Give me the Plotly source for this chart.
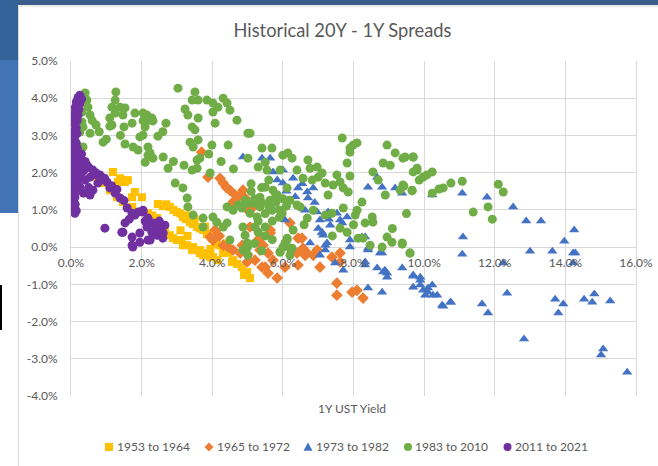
import plotly.graph_objects as go

# ---------------- data (1Y UST yield %, 20Y-1Y spread %) ----------------
x_1953_1964 = [1.19,1.39,1.61,1.33,1.53,1.81,2.01,1.73,2.46,2.80,3.00,3.17,3.37,3.57,3.74,3.99,4.08,4.31,4.59,4.84,4.99,5.07,
               0.74,0.91,1.10,1.30,1.47,1.73,1.95,2.18,2.44,2.66,2.80,3.00,3.17,3.43,3.65,3.88,4.02,4.31,4.56,
               2.89,3.14,3.29,3.46,3.65,3.74,3.94,
               2.90,3.10,3.25,3.45,3.65,3.85,4.20,4.45,4.70,2.60,3.30,3.50,3.80,4.10,4.40,2.30,3.95,4.15,4.90,2.70,3.10,3.30]
y_1953_1964 = [2.02,1.85,1.80,1.75,1.75,1.48,1.34,1.34,1.16,1.08,0.94,0.81,0.67,0.54,0.46,0.24,0.11,-0.03,-0.35,-0.54,-0.67,-0.83,
               1.88,1.72,1.53,1.34,1.21,1.08,0.94,0.91,0.78,0.54,0.32,0.19,0.05,-0.08,-0.16,-0.16,-0.27,-0.16,-0.40,
               0.24,0.19,0.05,0.00,-0.08,-0.22,-0.27,
               1.00,0.90,0.75,0.62,0.50,0.35,0.05,-0.15,-0.45,1.10,0.85,0.75,0.55,0.30,0.10,0.85,-0.05,-0.35,-0.75,1.15,0.45,0.30]

x_1965_1972 = [3.70,3.88,4.22,4.31,4.50,4.65,4.87,4.93,4.59,4.02,3.94,4.31,4.59,4.79,5.13,5.07,5.64,5.44,5.58,5.35,5.21,4.99,
               5.50,5.58,5.72,6.20,6.54,6.57,6.40,6.43,6.69,6.86,6.97,7.05,7.39,7.62,7.62,4.08,5.41,5.84,6.06,6.63,
               7.53,7.53,7.96,8.10,8.27,6.43,5.64,4.40,4.75,5.00,4.20,4.45,5.30,5.00,4.85]
y_1965_1972 = [2.55,1.88,1.85,1.72,1.53,1.40,1.53,1.32,1.21,0.19,0.27,0.05,-0.08,-0.16,1.05,0.54,0.38,0.05,-0.16,-0.08,-0.35,-0.40,
               -0.54,-0.70,-0.35,0.65,0.24,-0.03,-0.16,-0.48,-0.16,-0.22,-0.08,-0.54,-0.27,-0.16,-0.40,0.46,-0.54,-0.83,-0.54,-0.22,
               -0.97,-1.29,-1.21,-1.16,-1.37,0.24,0.46,1.60,1.35,1.00,0.30,0.00,0.20,-0.20,0.05]

x_1973_1982 = [4.87,5.41,5.64,5.72,6.00,5.84,6.29,6.00,6.43,6.69,6.86,6.14,6.71,6.97,6.63,7.28,7.53,7.82,7.05,7.34,7.68,7.11,
               7.14,6.77,7.25,7.20,7.05,7.90,7.90,8.24,8.41,8.33,8.75,8.41,8.81,9.18,9.38,8.67,7.48,7.71,8.67,8.89,
               8.95,9.38,9.69,8.33,6.06,7.11,7.20,8.41,8.81,8.33,8.84,8.95,9.89,9.69,9.97,10.23,10.11,10.25,10.51,10.74,
               7.62,8.41,8.81,10.23,11.08,11.78,12.52,12.89,13.31,11.10,11.08,13.00,13.63,13.97,14.25,14.22,12.24,
               9.89,9.69,9.89,10.11,10.03,10.37,10.54,10.76,11.64,11.81,12.35,12.83,13.71,13.94,13.80,14.53,14.76,
               14.82,15.27,15.07,15.01,15.75,14.22,14.28,6.10,6.35,6.55,6.90,7.30,7.00]
y_1973_1982 = [2.42,2.39,2.39,2.02,2.07,1.80,1.85,1.72,1.59,1.48,1.59,1.26,1.32,0.94,0.99,0.94,0.91,0.81,0.73,0.59,0.65,0.40,
               0.32,0.11,0.11,-0.08,-0.22,0.19,0.00,0.27,-0.03,0.27,-0.16,1.61,1.61,1.59,1.45,1.88,-0.43,-0.62,-0.56,-0.62,
               -0.70,-0.56,-0.75,-0.40,0.73,0.38,0.05,-1.10,-1.21,-0.48,-0.67,-0.81,-0.89,-1.08,-1.16,-1.02,-1.21,-1.29,-1.56,-1.48,
               0.73,-0.08,-0.16,1.40,1.45,1.34,1.08,0.70,0.70,0.27,-0.19,-0.11,-0.11,0.16,0.46,-0.16,-0.43,
               -0.81,-0.78,-1.02,-1.10,-1.29,-1.29,-1.59,-1.48,-1.53,-1.77,-1.24,-2.47,-1.40,-1.53,-1.77,-1.40,-1.48,
               -1.26,-1.45,-2.74,-2.90,-3.36,-0.43,-0.16,1.50,1.35,1.70,1.20,0.75,0.50]

x_1983_2010 = [0.40,0.45,0.48,0.54,0.31,0.34,0.54,0.71,0.34,0.91,1.27,1.25,1.16,1.39,1.53,1.25,1.10,1.47,1.10,1.50,1.73,1.81,
               1.53,1.76,1.90,2.04,2.15,2.04,2.29,2.32,2.10,2.04,1.95,2.46,2.69,2.18,2.24,2.61,3.03,3.23,3.31,3.43,3.51,3.60,
               3.85,4.02,4.16,3.60,3.43,3.51,3.37,3.46,3.60,3.99,3.65,0.25,0.31,2.18,2.10,2.32,2.75,2.24,1.16,2.95,3.17,3.29,
               3.31,3.46,3.74,3.74,4.02,4.13,4.31,4.42,4.50,4.42,4.59,4.73,4.84,4.93,5.01,4.87,4.93,4.99,4.87,5.01,3.57,3.43,
               3.57,3.94,4.45,5.01,4.70,4.08,4.31,4.50,4.42,4.02,5.07,5.41,5.69,5.01,5.50,5.30,5.55,6.00,6.14,6.26,5.92,6.40,
               6.71,6.77,6.97,7.11,6.57,6.83,7.00,7.20,7.53,7.62,7.42,7.90,7.71,7.85,7.28,7.68,7.90,7.99,8.10,7.82,7.90,8.95,
               9.18,9.40,9.69,8.84,9.04,8.55,8.70,9.40,9.32,9.66,9.80,5.72,5.50,5.35,5.64,5.84,6.12,6.20,6.40,6.49,5.98,5.69,
               5.35,5.16,5.07,5.27,5.50,5.21,6.29,6.12,6.00,6.26,6.20,5.92,6.69,6.86,7.20,7.39,7.71,8.10,8.05,8.24,8.53,8.55,
               8.33,7.62,7.82,8.13,8.27,8.95,9.09,9.38,8.81,8.47,9.60,5.20,5.40,5.60,5.80,5.50,5.30,5.70,5.90,6.00,5.10,5.40,
               5.60,5.80,6.10,5.30,5.50,5.70,5.20,5.00,5.40,6.06,6.20,5.92,6.12,9.46,9.69,9.80,9.69,9.86,9.97,10.08,10.23,9.43,
               9.66,10.23,10.42,10.54,10.76,11.08,11.39,11.81,11.93,12.10,12.24,9.38,9.60,0.60,0.80,1.00,1.40,2.60,2.90,
               3.20,3.90,4.25,4.60,5.10,5.90,6.60,7.40,8.00,8.90,9.10,9.50]
y_1983_2010 = [4.14,3.95,3.76,3.55,3.63,3.23,3.06,3.28,2.69,2.82,4.17,3.95,3.76,3.76,3.74,3.60,3.47,3.55,3.25,3.23,3.33,3.60,
               2.77,2.69,2.61,3.60,3.55,3.39,3.47,3.39,3.23,3.01,2.96,2.98,3.33,2.69,2.53,2.42,4.27,3.71,3.55,3.95,4.17,3.95,
               3.95,3.87,3.76,3.47,3.23,3.15,2.82,2.69,2.88,2.74,2.39,3.09,3.36,2.47,2.28,2.39,2.12,3.41,3.28,1.72,1.59,1.32,
               1.08,0.86,0.78,0.54,0.81,0.67,0.54,0.65,0.19,1.08,0.99,1.13,1.05,1.26,1.18,0.54,0.32,0.11,-0.08,-0.22,2.34,2.07,
               2.12,1.99,2.74,3.06,3.41,3.33,4.00,3.68,3.87,3.63,3.06,2.66,2.66,2.39,2.28,2.15,2.07,2.47,2.53,2.39,2.07,2.07,
               2.34,2.12,2.15,1.99,1.85,1.80,1.88,1.72,1.94,1.75,1.67,1.91,1.59,1.48,1.40,2.93,2.66,2.74,2.80,2.26,2.55,2.74,
               2.53,2.39,2.42,2.26,2.20,2.02,1.80,1.67,1.53,1.53,2.07,1.53,1.61,1.34,1.26,1.40,1.59,1.26,1.13,1.08,0.91,0.99,
               1.08,1.18,0.91,0.81,0.54,0.54,0.46,0.19,0.00,-0.03,-0.22,-0.13,0.78,0.99,0.86,0.91,1.05,0.99,0.86,1.21,0.81,0.67,
               0.65,0.51,0.40,0.24,0.24,0.27,0.13,0.11,0.00,0.05,-0.16,1.30,1.20,1.10,1.20,0.90,0.70,0.70,1.00,1.30,1.50,1.60,
               1.80,1.40,1.10,0.40,0.30,0.20,0.10,0.00,-0.10,0.11,-0.03,-0.13,0.24,2.42,2.42,2.12,2.02,1.80,1.88,1.94,2.02,1.64,
               1.51,1.45,1.56,1.59,1.72,1.77,0.94,1.08,0.75,1.69,1.48,0.08,-0.16,3.40,3.10,2.90,3.00,3.10,2.30,
               2.20,2.50,2.30,2.10,1.70,0.80,0.60,0.30,0.60,1.40,0.50,0.90]

x_2011_2021 = [0.25,0.20,0.30,0.15,0.25,0.12,0.22,0.10,0.20,0.08,0.18,0.10,0.15,0.07,0.17,0.10,0.05,0.15,0.08,0.18,0.06,0.14,
               0.22,0.08,0.16,0.05,0.25,0.12,0.20,0.05,0.30,0.10,0.20,0.35,0.05,0.15,0.28,0.08,0.20,0.05,0.15,0.25,0.08,0.10,
               0.11,0.07,0.12,0.08,0.11,0.15,0.40,0.45,0.30,
               0.40,0.62,0.82,1.02,1.10,1.25,1.39,1.59,1.73,1.90,2.04,2.18,2.32,2.52,2.66,2.61,2.44,2.18,1.95,1.73,1.73,1.44,
               1.53,0.96,0.54,0.62,0.40,0.76,0.54,0.25,1.81,2.15,2.29,1.95,1.47,1.75,2.04,2.60,2.24,0.70,0.90,0.50,0.35,2.40,
               2.50,2.10,1.65,0.30,0.50,0.70,0.95,1.15,1.30,1.50]
y_2011_2021 = [4.08,4.02,3.98,3.90,3.85,3.75,3.70,3.60,3.55,3.45,3.40,3.30,3.20,3.10,3.05,2.95,2.85,2.80,2.70,2.65,2.55,2.50,
               2.45,2.40,2.35,2.30,2.30,2.25,2.20,2.15,2.15,2.10,2.05,2.05,2.00,1.95,1.95,1.85,1.80,1.70,1.65,1.60,1.55,1.45,
               1.34,1.25,1.15,1.05,0.91,0.98,2.30,2.20,2.50,
               2.10,2.07,1.94,1.75,1.59,1.45,1.32,1.05,0.91,0.94,0.99,0.78,0.65,0.54,0.59,0.38,0.32,0.19,0.38,0.27,0.05,0.40,
               0.65,0.51,1.40,1.53,1.80,1.72,1.88,1.61,0.86,0.54,0.40,0.13,0.40,0.00,0.94,0.24,0.19,1.95,1.80,1.60,1.45,0.55,
               0.70,0.70,0.75,2.20,2.15,2.00,1.85,1.65,1.55,1.25]

series_names = ["1953 to 1964", "1965 to 1972", "1973 to 1982", "1983 to 2010", "2011 to 2021"]
x_ticks = [0, 2, 4, 6, 8, 10, 12, 14, 16]
y_ticks = [-4, -3, -2, -1, 0, 1, 2, 3, 4, 5]

# ---------------- figure ----------------
W, H = 658, 466
L, R, T, B = 71, 22, 61, 70
PW, PH = W - L - R, H - T - B

def px(xp):
    return (xp - L) / PW

def py(yp):
    return (H - B - yp) / PH

FONT = "Lato, 'Open Sans', sans-serif"
GREY = "#595959"

fig = go.Figure()
styles = [
    ("#FFC000", "square", 8),
    ("#ED7D31", "diamond", 9),
    ("#4472C4", "triangle-up", 9),
    ("#70AD47", "circle", 9),
    ("#7030A0", "circle", 9),
]

data = [(x_1953_1964, y_1953_1964), (x_1965_1972, y_1965_1972), (x_1973_1982, y_1973_1982),
        (x_1983_2010, y_1983_2010), (x_2011_2021, y_2011_2021)]
for name, (xs, ys), (col, sym, sz) in zip(series_names, data, styles):
    fig.add_trace(go.Scatter(x=xs, y=ys, mode="markers", name=name, showlegend=False,
                             marker=dict(color=col, symbol=sym, size=sz, line=dict(width=0))))

shapes = [
    dict(type="rect", xref="paper", yref="paper", x0=px(0), x1=px(W), y0=py(0), y1=py(5),
         fillcolor="#3b5d8b", line=dict(width=0), layer="below"),
    dict(type="rect", xref="paper", yref="paper", x0=px(0), x1=px(18), y0=py(0), y1=py(60),
         fillcolor="#36629a", line=dict(width=0), layer="below"),
    dict(type="rect", xref="paper", yref="paper", x0=px(0), x1=px(18), y0=py(60), y1=py(213),
         fillcolor="#4273b5", line=dict(width=0), layer="below"),
    dict(type="line", xref="paper", yref="paper", x0=px(18.5), x1=px(18.5), y0=py(6), y1=py(H),
         line=dict(color="#d9d9d9", width=1)),
    dict(type="line", xref="paper", yref="paper", x0=px(18), x1=px(W), y0=py(6), y1=py(6),
         line=dict(color="#d9d9d9", width=1)),
    dict(type="line", xref="paper", yref="paper", x0=px(1), x1=px(1), y0=py(285), y1=py(330),
         line=dict(color="#000000", width=2)),
]

# ---- custom legend (symbol + text), laid out like the Excel legend ----
LEG_Y = 447
legend_symbol_cx = [109, 209, 308, 408, 507.5]
legend_text_x = [116, 216, 315, 414, 514]
annotations = [dict(text="1Y UST Yield", xref="paper", yref="paper", x=px(352), y=py(408),
                    xanchor="center", yanchor="middle", showarrow=False,
                    font=dict(size=12, color=GREY))]
for name, (col, sym, sz), cx, tx in zip(series_names, styles, legend_symbol_cx, legend_text_x):
    cy = LEG_Y
    if sym == "square":
        shapes.append(dict(type="rect", xref="paper", yref="paper", x0=px(cx - 4), x1=px(cx + 4),
                           y0=py(cy + 4), y1=py(cy - 4), fillcolor=col, line=dict(width=0)))
    elif sym == "circle":
        shapes.append(dict(type="circle", xref="paper", yref="paper", x0=px(cx - 4), x1=px(cx + 4),
                           y0=py(cy + 4), y1=py(cy - 4), fillcolor=col, line=dict(width=0)))
    elif sym == "diamond":
        path = (f"M {px(cx)},{py(cy - 4.5)} L {px(cx + 4.5)},{py(cy)} "
                f"L {px(cx)},{py(cy + 4.5)} L {px(cx - 4.5)},{py(cy)} Z")
        shapes.append(dict(type="path", xref="paper", yref="paper", path=path, fillcolor=col, line=dict(width=0)))
    else:
        path = (f"M {px(cx)},{py(cy - 4.5)} L {px(cx + 4.5)},{py(cy + 3.8)} "
                f"L {px(cx - 4.5)},{py(cy + 3.8)} Z")
        shapes.append(dict(type="path", xref="paper", yref="paper", path=path, fillcolor=col, line=dict(width=0)))
    annotations.append(dict(text=name, xref="paper", yref="paper", x=px(tx - 1), y=py(cy),
                            xanchor="left", yanchor="middle", showarrow=False,
                            font=dict(size=12, color=GREY)))

fig.update_layout(
    width=W, height=H,
    showlegend=False,
    margin=dict(l=L, r=R, t=T, b=B, autoexpand=False),
    paper_bgcolor="white", plot_bgcolor="white",
    font=dict(family=FONT, size=12, color=GREY),
    title=dict(text="Historical 20Y - 1Y Spreads", x=342.5 / W, xref="container", xanchor="center",
               y=1 - 31 / H, yref="container", yanchor="middle",
               font=dict(family=FONT, size=18.3, color=GREY)),
    xaxis=dict(range=[0, 16], tickvals=x_ticks, ticktext=[f"{v:.1f}%" for v in x_ticks],
               showgrid=True, gridcolor="#d9d9d9", gridwidth=1, zeroline=False, showline=False,
               anchor="free", position=4 / 9, automargin=False,
               ticks="outside", ticklen=4, tickcolor="rgba(0,0,0,0)",
               tickfont=dict(size=12, color=GREY)),
    yaxis=dict(range=[-4, 5], tickvals=y_ticks, ticktext=[f"{v:.1f}%" for v in y_ticks],
               showgrid=True, gridcolor="#d9d9d9", gridwidth=1, zeroline=False,
               showline=True, mirror=True, linecolor="#d9d9d9", linewidth=1, automargin=False,
               ticks="outside", ticklen=10, tickcolor="rgba(0,0,0,0)", tickfont=dict(size=12, color=GREY)),
    shapes=shapes,
    annotations=annotations,
)

fig.write_html("out.html", config={"displayModeBar": False},
               post_script="document.body.style.margin='0px';document.body.style.padding='0px';")
